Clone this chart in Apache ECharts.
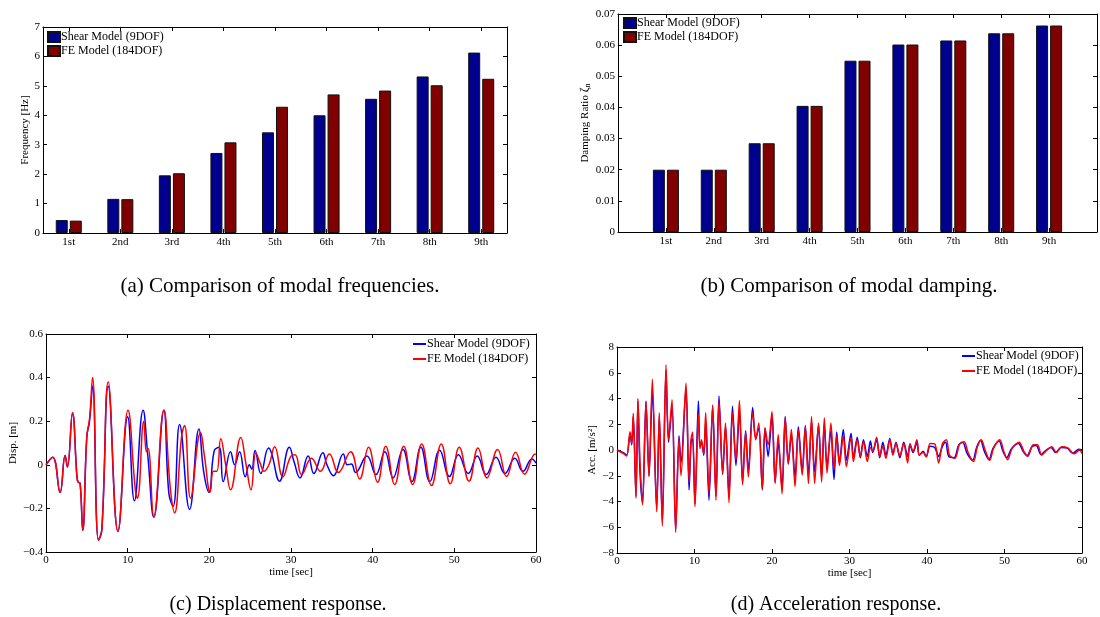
<!DOCTYPE html>
<html>
<head>
<meta charset="utf-8">
<script src="https://cdn.jsdelivr.net/npm/echarts@6/dist/echarts.min.js"></script>
<style>
  html, body { margin: 0; padding: 0; background: #fff; }
  .pane { position: absolute; left: 0; top: 0; width: 1100px; height: 617px; }
</style>
</head>
<body>
<div id="chartA" class="pane"></div>
<div id="chartB" class="pane"></div>
<div id="chartC" class="pane"></div>
<div id="chartD" class="pane"></div>
<script>
const modes = ['1st', '2nd', '3rd', '4th', '5th', '6th', '7th', '8th', '9th']
const seriesNames = ['Shear Model (9DOF)', 'FE Model (184DOF)']

const freqShear = [0.44, 1.16, 1.96, 2.72, 3.42, 4.00, 4.56, 5.32, 6.13]
const freqFE = [0.42, 1.15, 2.03, 3.08, 4.29, 4.71, 4.84, 5.02, 5.24]

const dampShear = [0.0200, 0.0200, 0.0285, 0.0405, 0.0550, 0.0602, 0.0615, 0.0638, 0.0663]
const dampFE = [0.0200, 0.0200, 0.0285, 0.0405, 0.0550, 0.0602, 0.0615, 0.0638, 0.0663]

// [time sec, displacement m]
const dispShear = [[0,0],[0.82,0.035],[1.72,-0.127],[2.34,0.043],[2.62,-0.01],[3.24,0.235],[3.8,-0.06],[3.95,-0.08],[4.18,-0.085],[4.5,-0.30],[5.0,0.13],[5.33,0.2],[5.7,0.36],[6.43,-0.346],[6.84,-0.295],[7.62,0.36],[8.81,-0.305],[10.0,0.22],[10.82,-0.165],[11.89,0.25],[12.46,0.045],[13.2,-0.24],[14.43,0.25],[15.04,-0.13],[15.57,-0.19],[16.36,0.185],[17.58,-0.205],[18.73,0.164],[19.3,-0.03],[19.96,-0.126],[20.6,0.065],[21.2,0.08],[21.7,-0.077],[22.6,0.06],[23.1,0.0],[23.7,0.06],[24.4,-0.055],[24.9,0.0],[25.2,-0.02],[25.6,0.066],[26.3,-0.04],[27.25,0.077],[27.6,0.055],[28.6,-0.075],[29.8,0.08],[30.4,0.01],[31.1,-0.06],[32.1,0.04],[32.8,-0.04],[33.9,0.055],[34.4,0.0],[35.2,-0.05],[36.4,0.05],[36.9,0.0],[37.4,0.004],[37.9,-0.035],[39.3,0.04],[40.4,-0.045],[41.5,0.06],[42.5,-0.06],[43.7,0.07],[44.8,-0.077],[45.9,0.08],[47.0,-0.077],[48.2,0.067],[49.4,-0.054],[50.5,0.046],[51.7,-0.04],[52.8,0.04],[53.9,-0.045],[55.1,0.035],[56.2,-0.04],[57.4,0.03],[58.4,-0.03],[59.5,0.027],[60,0.008]]
const dispFE = [[0,0],[0.82,0.035],[1.72,-0.127],[2.34,0.043],[2.62,-0.01],[3.24,0.24],[3.8,-0.06],[3.95,-0.08],[4.18,-0.085],[4.5,-0.30],[5.0,0.13],[5.33,0.21],[5.7,0.40],[6.43,-0.346],[6.84,-0.30],[7.62,0.38],[8.81,-0.305],[10.04,0.25],[10.94,-0.115],[11.2,-0.153],[11.97,0.20],[12.3,0.06],[12.5,0.075],[13.2,-0.24],[14.43,0.25],[15.2,-0.10],[15.74,-0.22],[16.6,0.13],[16.97,0.18],[17.7,-0.153],[18.93,0.148],[19.4,0.04],[20.1,-0.125],[20.5,-0.03],[20.9,-0.03],[21.4,0.12],[22.0,0.0],[22.6,-0.115],[23.85,0.125],[24.5,0.0],[25.1,-0.114],[25.7,0.054],[26.2,0.01],[26.7,-0.03],[27.3,0.0],[28.0,0.083],[29.0,-0.055],[30.0,0.04],[30.5,0.046],[31.3,-0.045],[32.5,0.03],[33.6,-0.03],[34.7,0.05],[35.8,-0.035],[37.3,0.06],[38.4,-0.065],[39.5,0.08],[40.6,-0.08],[41.6,0.085],[42.7,-0.09],[43.8,0.085],[44.9,-0.09],[46.0,0.095],[47.2,-0.095],[48.4,0.095],[49.5,-0.087],[50.6,0.08],[51.8,-0.075],[52.9,0.077],[54.0,-0.06],[55.3,0.07],[56.4,-0.054],[57.5,0.057],[58.6,-0.043],[59.9,0.05],[60,0.048]]

// [time sec, acceleration m/s2]
const accShear = [[0,0],[0.8,-0.2],[1.25,-0.4],[1.68,1.2],[1.9,0.4],[2.1,2.6],[2.45,-3.6],[2.7,3.8],[2.97,-1.7],[3.3,-4.1],[3.74,3.8],[4.13,-2.0],[4.56,4.6],[5.12,-4.6],[5.46,2.7],[5.85,-5.7],[6.32,6.2],[6.65,0.6],[7.1,3.4],[7.57,-6.2],[8.0,1.1],[8.26,-1.0],[8.9,4.8],[9.3,-3.1],[9.55,0.6],[9.76,0.9],[10.06,-4.2],[10.5,3.8],[10.7,0.3],[10.9,0.6],[11.2,-0.4],[11.44,2.2],[11.87,-3.9],[12.34,3.4],[12.77,-3.6],[13.16,4.2],[13.63,-1.9],[14.0,1.8],[14.45,-3.5],[14.9,3.4],[15.35,-1.2],[15.8,3.0],[16.2,-2.5],[16.6,1.5],[16.95,-1.7],[17.5,3.3],[17.9,0.9],[18.3,1.7],[18.75,-3.1],[19.1,1.7],[19.5,-0.5],[20.0,2.7],[20.4,-2.5],[20.8,0.6],[21.3,-3.0],[21.7,2.6],[22.1,-1.1],[22.5,1.2],[22.97,-2.1],[23.4,1.8],[23.9,-1.7],[24.3,1.9],[24.7,-2.0],[25.1,2.2],[25.5,-1.7],[26.0,1.9],[26.4,-2.1],[26.75,2.0],[27.1,-1.3],[27.6,1.5],[28.0,-2.3],[28.35,1.4],[28.7,-1.0],[29.2,1.6],[29.6,-0.8],[30.2,1.3],[30.5,-0.6],[31.0,1.0],[31.4,-0.6],[31.8,0.8],[32.3,-0.5],[32.7,0.7],[33.0,-0.2],[33.5,0.8],[33.9,-0.6],[34.3,0.6],[34.7,-0.4],[35.2,0.9],[35.6,-0.3],[36.0,0.6],[36.5,-0.6],[37.0,0.6],[37.5,-0.5],[37.8,0.4],[38.2,-0.2],[38.7,0.6],[39.0,-0.4],[39.5,-0.1],[39.9,-0.5],[40.4,0.3],[41.0,0.2],[41.5,-0.5],[42.0,0.3],[42.4,0.6],[42.8,-0.5],[43.5,-0.6],[44.1,0.4],[44.6,0.6],[45.2,-0.3],[45.9,-0.8],[46.4,0.2],[46.9,0.75],[47.4,-0.1],[48.0,-0.75],[48.5,0.1],[49.3,0.7],[49.8,-0.1],[50.3,-0.6],[50.9,0.1],[51.8,0.5],[52.4,-0.1],[52.9,-0.45],[53.6,0.3],[54.1,0.35],[54.7,-0.35],[55.4,0.0],[56.0,0.2],[56.6,-0.2],[57.3,0.2],[58.1,0.15],[58.8,-0.25],[59.6,0.05],[60,0.0]]
const accFE = [[0,0],[0.8,-0.26],[1.25,-0.47],[1.68,1.42],[1.9,0.5],[2.1,2.85],[2.45,-3.75],[2.7,4.0],[2.97,-1.0],[3.3,-4.27],[3.74,3.75],[4.13,-2.07],[4.56,5.5],[5.12,-4.8],[5.46,2.9],[5.85,-5.9],[6.32,6.6],[6.65,0.8],[7.1,3.9],[7.57,-6.4],[8.0,0.9],[8.26,-2.0],[8.9,5.2],[9.3,-2.5],[9.55,0.8],[9.76,1.4],[10.06,-4.4],[10.5,2.8],[10.7,0.1],[10.9,0.8],[11.2,-0.3],[11.44,2.9],[11.87,-3.4],[12.34,3.5],[12.77,-3.9],[13.16,3.8],[13.63,-1.8],[14.0,2.1],[14.45,-4.1],[14.9,2.9],[15.35,-0.8],[15.8,3.85],[16.2,-2.7],[16.6,1.35],[16.95,-2.1],[17.5,2.9],[17.9,0.8],[18.3,2.1],[18.75,-3.0],[19.1,1.7],[19.5,0.4],[20.0,3.0],[20.4,-2.6],[20.8,1.2],[21.3,-3.4],[21.7,2.5],[22.1,-1.0],[22.5,1.6],[22.97,-2.85],[23.4,1.55],[23.9,-1.95],[24.3,1.8],[24.7,-2.6],[25.1,2.6],[25.5,-2.6],[26.0,2.1],[26.4,-2.5],[26.75,2.5],[27.1,-1.8],[27.6,2.1],[28.0,-1.5],[28.35,1.1],[28.7,-1.2],[29.2,1.1],[29.6,-1.3],[30.2,1.0],[30.5,-0.9],[31.0,0.8],[31.4,-0.5],[31.8,0.65],[32.3,-0.9],[32.7,0.2],[33.0,-0.1],[33.5,1.0],[33.9,-0.5],[34.3,0.3],[34.7,-0.65],[35.2,0.8],[35.6,-0.4],[36.0,0.5],[36.5,-0.45],[37.0,0.5],[37.5,-1.0],[37.8,0.5],[38.2,-0.1],[38.7,0.8],[39.0,-0.4],[39.5,-0.2],[39.9,-0.55],[40.4,0.5],[41.0,0.47],[41.5,-1.0],[42.0,0.5],[42.5,0.8],[42.9,-0.4],[43.6,-0.65],[44.2,0.45],[44.8,0.65],[45.3,-0.2],[46.0,-0.9],[46.5,0.25],[47.0,0.8],[47.5,0.0],[48.1,-0.8],[48.6,0.15],[49.4,0.8],[49.9,-0.1],[50.4,-0.75],[51.0,0.15],[51.9,0.6],[52.5,-0.1],[53.0,-0.5],[53.7,0.4],[54.25,0.4],[54.8,-0.4],[55.5,0.0],[56.1,0.25],[56.7,-0.2],[57.4,0.25],[58.2,0.15],[58.97,-0.3],[59.7,0.0],[60,-0.3]]

const captions = [
  '(a) Comparison of modal frequencies.',
  '(b) Comparison of modal damping.',
  '(c) Displacement response.',
  '(d) Acceleration response.'
]

const FONT = 'Liberation Serif'
const barColors = ['#00008f', '#800000']
const lineColors = ['#0000ff', '#ff0000']

const minusFmt = v => (v < 0 ? '\u2212' : '') + String(Math.abs(+(+v).toFixed(3)))

// axis with box look: black line, inward ticks
const axis = (extra, label) => Object.assign({
  axisLine: { show: true, onZero: false, lineStyle: { color: '#000', width: 1 } },
  axisTick: { show: true, inside: true, length: 4, lineStyle: { color: '#000' } },
  axisLabel: Object.assign({ color: '#000', fontFamily: FONT, fontSize: 11, margin: 4 }, label),
  splitLine: { show: false },
  nameLocation: 'middle',
  nameTextStyle: { color: '#000', fontFamily: FONT, fontSize: 11 }
}, extra)

// mirrored axis for the top / right side of the box
const mirror = (a, position) => Object.assign({}, a, {
  position, name: '', axisLabel: { show: false }
})

const caption = (text, x, y, size) => ({
  type: 'text', x, y, silent: true,
  style: {
    text, fill: '#000', font: size + 'px "Liberation Serif"',
    align: 'center', verticalAlign: 'middle', textAlign: 'center', textVerticalAlign: 'middle'
  }
})

const barSeries = (data, i) => ({
  name: seriesNames[i],
  type: 'bar',
  data,
  barWidth: 12,
  barGap: '17%',
  itemStyle: { color: barColors[i], borderColor: '#111', borderWidth: 1 }
})

const lineSeries = (data, i, smooth) => ({
  name: seriesNames[i],
  type: 'line',
  data,
  symbol: 'none',
  smooth,
  lineStyle: { color: lineColors[i], width: 1.5 },
  itemStyle: { color: lineColors[i] }
})

const barLegend = (left, top) => ({
  left, top, orient: 'vertical', padding: 0,
  icon: 'rect', itemWidth: 12, itemHeight: 10, itemGap: 2,
  textStyle: { fontFamily: FONT, fontSize: 12, color: '#000', padding: [0, 0, 0, -4] },
  data: seriesNames
})

const lineLegend = (left, top) => ({
  left, top, orient: 'vertical', padding: 0,
  icon: 'rect', itemWidth: 13, itemHeight: 2, itemGap: 3,
  textStyle: { fontFamily: FONT, fontSize: 12, color: '#000', padding: [0, 0, 0, -4] },
  data: seriesNames
})

// (a) modal frequencies
const xA = axis({ type: 'category', data: modes, boundaryGap: true }, { interval: 0 })
xA.axisTick = Object.assign({}, xA.axisTick, { alignWithLabel: true, interval: 0 })
const yA = axis({ type: 'value', min: 0, max: 7, interval: 1, name: 'Frequency [Hz]', nameGap: 11 }, { margin: 3 })
const optionA = {
  animation: false,
  grid: { left: 43, top: 27, right: 593, bottom: 384 },
  legend: barLegend(47, 31),
  xAxis: [xA, mirror(xA, 'top')],
  yAxis: [yA, mirror(yA, 'right')],
  series: [barSeries(freqShear, 0), barSeries(freqFE, 1)],
  graphic: [caption(captions[0], 280, 286, 21)]
}

// (b) modal damping, xlim [0, 10] so ticks sit on whole numbers
const modesPadded = [''].concat(modes, [''])
const xB = axis({ type: 'category', data: modesPadded, boundaryGap: false }, { interval: 0 })
xB.axisTick = Object.assign({}, xB.axisTick, { interval: 0 })
const yB = axis({
  type: 'value', min: 0, max: 0.07, interval: 0.01,
  name: '{t|Damping Ratio }{z|\u03b6}{s|n}', nameGap: 26,
  nameTextStyle: {
    color: '#000', fontFamily: FONT, fontSize: 11,
    rich: {
      t: { fontFamily: FONT, fontSize: 11, color: '#000', lineHeight: 14 },
      z: { fontFamily: FONT, fontSize: 12, color: '#000', lineHeight: 14 },
      s: { fontFamily: FONT, fontSize: 8, color: '#000', verticalAlign: 'bottom', lineHeight: 8 }
    }
  }
}, { margin: 3, formatter: minusFmt })
const optionB = {
  animation: false,
  grid: { left: 618, top: 14, width: 491, height: 218 },
  legend: barLegend(623, 17),
  xAxis: [xB, mirror(xB, 'top')],
  yAxis: [yB, mirror(yB, 'right')],
  series: [
    barSeries(['-'].concat(dampShear, ['-']), 0),
    barSeries(['-'].concat(dampFE, ['-']), 1)
  ],
  graphic: [caption(captions[1], 849, 286, 21)]
}

// (c) displacement response
const xC = axis({ type: 'value', min: 0, max: 60, interval: 10, name: 'time [sec]', nameGap: 15 }, { margin: 3 })
const yC = axis({ type: 'value', min: -0.4, max: 0.6, interval: 0.2, name: 'Disp. [m]', nameGap: 27 }, { margin: 3, formatter: minusFmt })
const optionC = {
  animation: false,
  grid: { left: 46, top: 334, right: 564, bottom: 65 },
  legend: lineLegend(413, 338),
  xAxis: [xC, mirror(xC, 'top')],
  yAxis: [yC, mirror(yC, 'right')],
  series: [lineSeries(dispShear, 0, 0.45), lineSeries(dispFE, 1, 0.45)],
  graphic: [caption(captions[2], 278, 605, 20)]
}

// (d) acceleration response
const xD = axis({ type: 'value', min: 0, max: 60, interval: 10, name: 'time [sec]', nameGap: 14 }, { margin: 3 })
const yD = axis({ type: 'value', min: -8, max: 8, interval: 2, name: 'Acc. [m/s\u00b2]', nameGap: 19 }, { margin: 3, formatter: minusFmt })
const optionD = {
  animation: false,
  grid: { left: 617, top: 347, right: 18, bottom: 64 },
  legend: lineLegend(962, 350),
  xAxis: [xD, mirror(xD, 'top')],
  yAxis: [yD, mirror(yD, 'right')],
  series: [lineSeries(accShear, 0, 0.3), lineSeries(accFE, 1, 0.3)],
  graphic: [caption(captions[3], 836, 605, 20)]
}

const charts = [
  ['chartA', optionA], ['chartB', optionB], ['chartC', optionC], ['chartD', optionD]
].map(([id, opt]) => {
  const c = echarts.init(document.getElementById(id))
  c.setOption(opt)
  return c
})

window.addEventListener('resize', () => charts.forEach(c => c.resize()))
</script>
</body>
</html>
